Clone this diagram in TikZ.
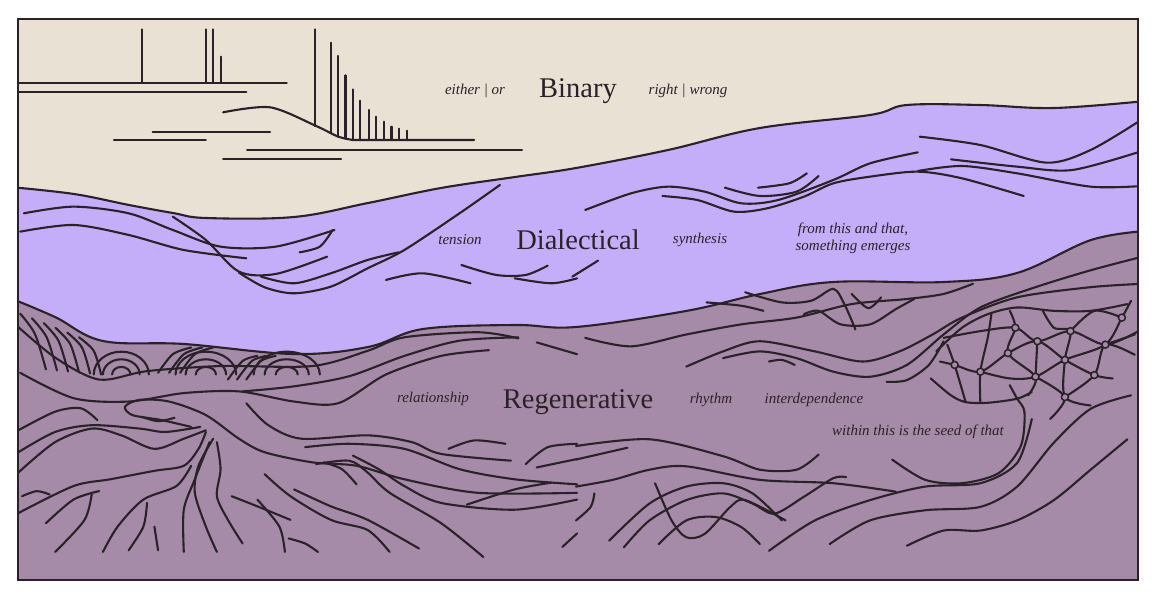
\documentclass[tikz,border=0pt]{standalone}
\usepackage{fontspec}
\setmainfont{Liberation Serif}
\definecolor{beige}{HTML}{E8E1D4}
\definecolor{lav}{HTML}{C4AEF9}
\definecolor{mauve}{HTML}{A58BA8}
\definecolor{ink}{HTML}{2A2228}
\tikzset{
  ln/.style={draw=ink,line width=2.1pt,line cap=round},
  title/.style={font=\fontsize{28.5}{31}\selectfont,text=ink},
  lab/.style={font=\fontsize{15}{17}\selectfont\itshape,text=ink,align=center},
  zA/.style={xscale=0.3676,yscale=0.3333},
  zB/.style={shift={(576,90)},xscale=0.3676,yscale=0.3333},
  zC/.style={shift={(0,290)},xscale=0.3676,yscale=0.338},
  zD/.style={shift={(576,250)},xscale=0.3676,yscale=0.338},
  dot/.style={circle,draw=ink,line width=1.5pt,fill=mauve,inner sep=0pt,minimum size=7pt}
}
\begin{document}
\begin{tikzpicture}[x=1pt,y=-1pt]
\useasboundingbox (0,0) rectangle (1152,594);
\begin{scope}
\clip (18,19) rectangle (1138,580);
\fill[beige] (18,19) rectangle (1138,580);
\fill[lav] plot[smooth,tension=0.6] coordinates {(10,187)(74,194)(129,205)(173,213)(206,218)(294,217)(368,203)(441,188)(515,177)(576,168)(668,150)(760,128)(870,115)(907,105)(980,105)(1054,108)(1146,101)} -- (1146,590) -- (10,590) -- cycle;
\draw[ln] plot[smooth,tension=0.6] coordinates {(10,187)(74,194)(129,205)(173,213)(206,218)(294,217)(368,203)(441,188)(515,177)(576,168)(668,150)(760,128)(870,115)(907,105)(980,105)(1054,108)(1146,101)};
\fill[mauve] plot[smooth,tension=0.6] coordinates {(10,298)(55,317)(103,341)(184,344)(294,354)(368,347)(423,329)(515,325)(576,327)(686,311)(760,294)(833,282)(944,282)(1017,273)(1091,240)(1146,231)} -- (1146,590) -- (10,590) -- cycle;
\draw[ln] plot[smooth,tension=0.6] coordinates {(10,298)(55,317)(103,341)(184,344)(294,354)(368,347)(423,329)(515,325)(576,327)(686,311)(760,294)(833,282)(944,282)(1017,273)(1091,240)(1146,231)};

% ---------- binary ----------
\begin{scope}[zA]
\draw[ln] (45,248)--(780,248);
\draw[ln] (45,277)--(670,277);
\draw[ln] (387,88)--(387,248);
\draw[ln] (560,88)--(560,248);
\draw[ln] (580,88)--(580,248);
\draw[ln] (602,170)--(602,248);
\draw[ln] plot[smooth] coordinates {(607,337)(735,322)(860,378)(920,410)(960,420)} -- (1290,420);
\foreach \x/\t/\b in {858/88/378,900/128/400,920/168/410,940/226/416,960/268/420,980/302/420,1003/330/420,1023/350/420,1045/365/420,1065/380/420,1085/386/420,1107/392/420}
  \draw[ln] (\x,\t)--(\x,\b);
\draw[ln] (310,420)--(560,420);
\draw[ln] (415,397)--(735,397);
\draw[ln] (672,450)--(1420,450);
\draw[ln] (607,477)--(928,477);
\draw[ln] plot[smooth] coordinates {(65,640)(200,620)(350,640)(470,690)(600,740)(750,740)(910,690)};
\draw[ln] plot[smooth] coordinates {(55,695)(200,675)(350,705)(500,750)(670,775)};
\draw[ln] plot[smooth] coordinates {(815,757)(870,740)(905,690)};
\draw[ln] plot[smooth] coordinates {(470,650)(560,720)(650,815)(750,822)(890,770)};
\draw[ln] plot[smooth] coordinates {(650,818)(720,862)(800,880)(900,860)(1000,805)(1100,750)(1250,640)(1360,555)};
\draw[ln] plot[smooth] coordinates {(710,830)(800,850)(900,820)(1000,780)(1085,757)};
\draw[ln] plot[smooth] coordinates {(1050,840)(1150,820)(1280,850)};
\draw[ln] plot[smooth] coordinates {(1255,795)(1350,825)(1430,825)(1490,797)};
\draw[ln] plot[smooth] coordinates {(1400,835)(1500,850)(1570,835)};
\end{scope}

% ---------- dialectical right ----------
\begin{scope}[zB]
\draw[ln] plot[smooth] coordinates {(25,360)(150,310)(250,290)(350,305)(450,340)(550,330)(700,270)(800,220)(930,187)};
\draw[ln] plot[smooth] coordinates {(-10,560)(60,512)};
\draw[ln] plot[smooth] coordinates {(235,318)(330,330)(430,365)(520,355)(620,320)(700,280)(800,260)(930,245)(1050,265)(1218,318)};
\draw[ln] plot[smooth] coordinates {(405,293)(500,318)(600,305)(660,258)};
\draw[ln] plot[smooth] coordinates {(495,293)(580,280)(628,250)};
\draw[ln] plot[smooth] coordinates {(935,140)(1100,165)(1280,218)(1400,180)(1540,88)};
\draw[ln] plot[smooth] coordinates {(1020,208)(1200,230)(1350,240)(1540,183)};
\draw[ln] plot[smooth] coordinates {(930,243)(1050,228)(1200,250)(1400,290)(1540,288)};
\end{scope}

% ---------- regenerative left ----------
\begin{scope}[zC]
\draw[ln] plot[smooth] coordinates {(40,100)(150,200)(270,265)(400,240)(600,225)(850,225)(1000,180)(1100,140)(1300,125)(1410,143)};
\foreach \i in {0,...,5}
  \draw[ln] plot[smooth] coordinates {(55+\i*32,70+\i*14)(95+\i*32,130+\i*10)(125+\i*30,235+\i*3)};
\foreach \c/\w in {330/1,560/1.1,780/1.2}
  \foreach \r in {25,50,75}
    \draw[ln] (\c-\r*\w,250) arc[start angle=180,end angle=360,x radius=\r*\w,y radius=\r*0.9];
\foreach \i in {0,1,2}
  \draw[ln] plot[smooth] coordinates {(430+\i*30,245)(470+\i*30,190)(520+\i*30,170)};
\foreach \i in {0,1,2}
  \draw[ln] plot[smooth] coordinates {(620+\i*25,265)(660+\i*25,210)(700+\i*25,195)};
\draw[ln] plot[smooth] coordinates {(55,245)(200,320)(350,330)(500,305)(650,300)(800,330)(920,335)(1050,250)(1200,195)(1330,178)};
\draw[ln] plot[smooth] coordinates {(660,300)(800,285)(950,255)(1100,195)(1250,150)(1410,140)};
\draw[ln] plot[smooth] coordinates {(1460,155)(1570,190)};
\draw[ln] plot[smooth] coordinates {(50,415)(150,360)(220,350)(265,385)};
\draw[ln] plot[smooth] coordinates {(520,405)(440,385)(360,370)(340,345)(380,325)(460,330)(560,370)(650,440)(720,480)(850,510)(970,520)(1100,560)(1300,600)(1570,600)};
\draw[ln] plot[smooth] coordinates {(385,375)(430,388)(475,378)};
\draw[ln] plot[smooth] coordinates {(50,540)(150,450)(250,410)(330,430)(420,470)(500,440)(560,415)};
\draw[ln] plot[smooth] coordinates {(50,480)(150,420)(250,400)(380,410)(450,420)(545,405)};
\draw[ln] plot[smooth] coordinates {(50,660)(200,580)(300,560)(420,535)(500,520)(540,470)(560,420)};
\draw[ln] plot[smooth] coordinates {(60,610)(100,595)(135,605)};
\draw[ln] plot[smooth] coordinates {(125,690)(200,620)(270,595)};
\draw[ln] plot[smooth] coordinates {(150,775)(230,680)(250,600)};
\draw[ln] plot[smooth] coordinates {(280,775)(320,700)(390,620)(480,580)(520,520)};
\draw[ln] plot[smooth] coordinates {(350,770)(390,700)(400,630)};
\draw[ln] plot[smooth] coordinates {(430,770)(420,700)};
\draw[ln] plot[smooth] coordinates {(500,775)(500,650)(530,560)(570,450)};
\draw[ln] plot[smooth] coordinates {(590,775)(560,700)(530,600)(540,520)(580,440)};
\draw[ln] plot[smooth] coordinates {(660,750)(620,680)(590,610)(600,530)(590,450)};
\draw[ln] plot[smooth] coordinates {(630,610)(700,640)(790,680)};
\draw[ln] plot[smooth] coordinates {(775,775)(760,700)(700,620)};
\draw[ln] plot[smooth] coordinates {(785,735)(830,750)(865,775)};
\draw[ln] plot[smooth] coordinates {(720,545)(790,610)(900,680)(1000,710)(1060,775)};
\draw[ln] plot[smooth] coordinates {(800,590)(900,640)(1000,680)(1140,765)};
\draw[ln] plot[smooth] coordinates {(860,515)(950,505)(1000,540)(1060,600)(1200,690)(1315,790)};
\draw[ln] plot[smooth] coordinates {(880,510)(930,530)(970,575)};
\draw[ln] plot[smooth] coordinates {(670,335)(730,400)(820,440)(1000,430)(1120,450)(1200,485)(1390,505)};
\draw[ln] plot[smooth] coordinates {(830,465)(950,455)(1100,470)(1250,530)(1400,560)(1570,575)};
\draw[ln] plot[smooth] coordinates {(960,490)(1030,530)(1100,580)(1200,630)(1400,650)(1570,620)};
\draw[ln] plot[smooth] coordinates {(1220,470)(1290,445)(1375,455)};
\draw[ln] plot[smooth] coordinates {(1270,635)(1400,590)(1500,570)};
\draw[ln] plot[smooth] coordinates {(1430,515)(1490,465)(1570,455)};
\draw[ln] plot[smooth] coordinates {(1460,525)(1570,500)};
\draw[ln] plot[smooth] coordinates {(1530,760)(1570,720)};
\end{scope}

% ---------- regenerative right ----------
\begin{scope}[zD]
\draw[ln] plot[smooth] coordinates {(25,260)(150,285)(300,250)(450,220)(600,200)(750,160)(900,145)(1000,130)(1080,100)};
\draw[ln] plot[smooth] coordinates {(300,345)(400,300)(500,270)(650,300)(780,330)(880,300)(970,250)(1050,200)(1200,140)(1400,110)(1540,100)};
\draw[ln] plot[smooth] coordinates {(400,320)(500,300)(600,320)(700,360)(800,375)(900,340)(1000,250)(1100,170)(1250,110)(1400,60)(1540,20)};
\draw[ln] plot[smooth] coordinates {(355,155)(450,165)(510,180)};
\draw[ln] plot[smooth] coordinates {(460,125)(560,155)(640,150)(700,115)(730,160)(760,235)};
\draw[ln] plot[smooth] coordinates {(750,130)(795,172)(830,140)};
\draw[ln] plot[smooth] coordinates {(620,190)(660,180)(720,220)(800,220)(870,175)(920,145)};
\draw[ln] plot[smooth] coordinates {(525,330)(560,325)(595,340)};
\draw[ln] plot[smooth] coordinates {(845,390)(900,385)(960,340)(1000,270)};
\draw[ln] plot[smooth] coordinates {(0,580)(200,560)(400,610)(500,650)(600,650)(660,605)};
\draw[ln] plot[smooth] coordinates {(0,620)(80,600)(140,585)};
\draw[ln] plot[smooth] coordinates {(0,700)(100,680)(200,650)(300,640)(500,680)(700,690)(870,715)};
\draw[ln] plot[smooth] coordinates {(90,860)(200,750)(300,700)(400,690)(480,720)(560,800)};
\draw[ln] plot[smooth] coordinates {(215,690)(260,800)(300,850)(350,840)(420,760)(460,740)(570,800)};
\draw[ln] plot[smooth] coordinates {(225,870)(300,800)(380,790)(450,820)(500,870)};
\draw[ln] plot[smooth] coordinates {(130,880)(200,800)(300,740)(400,720)(480,750)(540,780)(620,730)(700,675)(735,672)};
\draw[ln] plot[smooth] coordinates {(525,890)(650,800)(800,740)(950,700)(1100,690)(1200,630)(1240,500)};
\draw[ln] plot[smooth] coordinates {(860,620)(950,680)(1050,690)(1150,660)(1210,580)(1220,480)(1200,440)(1180,400)};
\draw[ln] plot[smooth] coordinates {(965,380)(1020,430)(1060,450)(1120,452)(1200,440)(1240,420)};
\draw[ln] plot[smooth] coordinates {(690,870)(800,800)(950,770)(1100,760)(1200,700)(1300,570)(1400,470)(1510,430)};
\draw[ln] plot[smooth] coordinates {(900,875)(1000,830)(1100,830)(1200,800)(1300,740)(1400,650)(1500,560)};
\draw[ln] plot[smooth] coordinates {(0,800)(40,760)(50,720)};
\draw[ln] plot[smooth] coordinates {(980,300)(1050,230)(1120,190)(1200,170)(1300,180)(1400,180)(1500,160)};
\draw[ln] plot[smooth] coordinates {(1000,260)(1100,240)(1195,230)(1255,270)(1345,240)(1440,280)(1530,240)};
\draw[ln] plot[smooth] coordinates {(990,330)(1030,340)(1100,360)(1175,305)(1255,270)(1330,325)(1410,370)(1460,380)};
\draw[ln] plot[smooth] coordinates {(1100,360)(1180,380)(1250,375)(1330,325)(1440,280)(1485,200)(1510,150)};
\draw[ln] plot[smooth] coordinates {(1060,450)(1030,340)(1010,280)};
\draw[ln] plot[smooth] coordinates {(1100,452)(1100,360)(1120,260)(1130,190)};
\draw[ln] plot[smooth] coordinates {(1230,430)(1250,375)(1175,305)(1195,230)(1180,180)};
\draw[ln] plot[smooth] coordinates {(1290,500)(1330,435)(1250,375)};
\draw[ln] plot[smooth] coordinates {(1270,180)(1300,230)(1345,240)(1330,325)(1330,435)(1400,460)};
\draw[ln] plot[smooth] coordinates {(1330,435)(1410,370)(1440,280)(1520,310)};
\draw[ln] plot[smooth] coordinates {(1485,200)(1410,180)(1345,240)};
\draw[ln] plot[smooth] coordinates {(1255,270)(1250,375)};
\draw[ln] plot[smooth] coordinates {(1440,280)(1520,250)};
\foreach \p [count=\k] in {(1030,340),(1100,360),(1175,305),(1195,230),(1255,270),(1250,375),(1330,325),(1345,240),(1410,370),(1440,280),(1485,200),(1330,435)}
  \node[dot] (nd\k) at \p {};
\end{scope}
\end{scope}
\draw[ink,line width=2.2pt] (18,19) rectangle (1138,580);

\node[title] (bin) at (578,91) {Binary};
\node[lab] (eo) at (475,91) {either | or};
\node[lab] (rw) at (688,91) {right | wrong};
\node[title] (dia) at (578,240) {Dialectical};
\node[lab] (ten) at (460,240) {tension};
\node[lab] (syn) at (700,240) {synthesis};
\node[lab] (ftt) at (853,238) {from this and that,\\something emerges};
\node[title] (reg) at (578,402) {Regenerative};
\node[lab] (rel) at (433,399) {relationship};
\node[lab] (rhy) at (711,400) {rhythm};
\node[lab] (int) at (814,400) {interdependence};
\node[lab] (wit) at (918,432) {within this is the seed of that};
\end{tikzpicture}
\end{document}
